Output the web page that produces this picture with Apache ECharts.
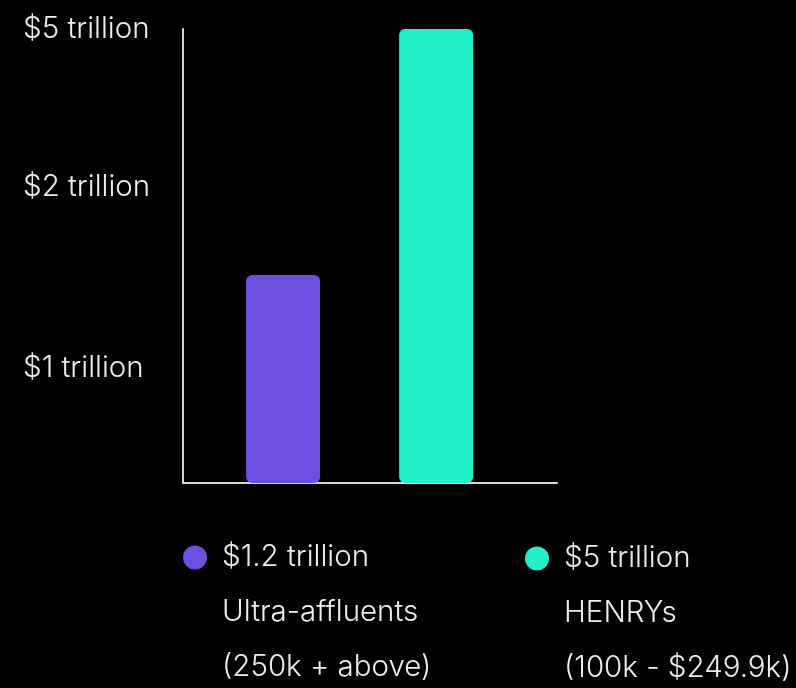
<!DOCTYPE html>
<html>
<head>
<meta charset="utf-8">
<script src="https://cdn.jsdelivr.net/npm/echarts@6/dist/echarts.min.js"></script>
<style>
html,body{margin:0;padding:0;background:#000;}
#chart{width:796px;height:688px;}
</style>
</head>
<body>
<div id="chart"></div>
<script>
// ---- data ----
const categories = ['Ultra-affluents', 'HENRYs'];
const amountLabels = ['$1.2 trillion', '$5 trillion'];
const rangeLabels = ['(250k + above)', '(100k - $249.9k)'];
const barPositions = [1, 2];
const barHeights = [2.29, 5];          // heights as read on the drawn y scale
const tickValues = [1.27, 3.26, 5];    // where each y label sits on that scale
const tickLabels = ['$1 trillion', '$2 trillion', '$5 trillion'];
const colors = ['#6E50E0', '#22F0CC'];

const FONT = 'Inter';
const TEXT = '#ececec';
const AXIS = '#d6d6d6';
const FS = 29.5;

const chart = echarts.init(document.getElementById('chart'), null, {renderer: 'canvas'});

const series = categories.map((name, i) => ({
  name: name,
  type: 'bar',
  data: [[barPositions[i], barHeights[i]]],
  barWidth: 74,
  barGap: '-100%',
  itemStyle: {color: colors[i], borderRadius: 6},
  emphasis: {disabled: true}
}));

function legendFor(i, left, top) {
  return {
    data: [categories[i]],
    left: left,
    top: top,
    orient: 'vertical',
    icon: 'circle',
    itemWidth: 24,
    itemHeight: 24,
    padding: 0,
    selectedMode: false,
    formatter: () => '\n\n' + amountLabels[i] + '\n' + categories[i] + '\n' + rangeLabels[i],
    textStyle: {color: TEXT, fontFamily: FONT, fontWeight: 300, fontSize: FS, lineHeight: 55, padding: [0, 0, 0, 10]}
  };
}

chart.setOption({
  backgroundColor: '#000',
  animation: false,
  grid: {left: 183, right: 239, top: 29, bottom: 205, containLabel: false, outerBoundsMode: 'none'},
  xAxis: {
    type: 'value', min: 0.346, max: 2.79,
    axisLine: {show: true, onZero: false, lineStyle: {color: AXIS, width: 2}},
    axisTick: {show: false}, axisLabel: {show: false}, splitLine: {show: false}
  },
  yAxis: {
    type: 'value', min: 0, max: 5,
    axisLine: {show: true, onZero: false, lineStyle: {color: AXIS, width: 2}},
    axisTick: {show: false},
    splitLine: {show: false},
    axisLabel: {
      customValues: tickValues,
      formatter: function (v) {
        for (let k = 0; k < tickValues.length; k++) {
          if (Math.abs(tickValues[k] - v) < 1e-6) return tickLabels[k];
        }
        return '';
      },
      align: 'left', margin: 160,
      color: TEXT, fontFamily: FONT, fontWeight: 300, fontSize: FS
    }
  },
  legend: [legendFor(0, 183, 420), legendFor(1, 525, 421)],
  series: series
});
</script>
</body>
</html>
